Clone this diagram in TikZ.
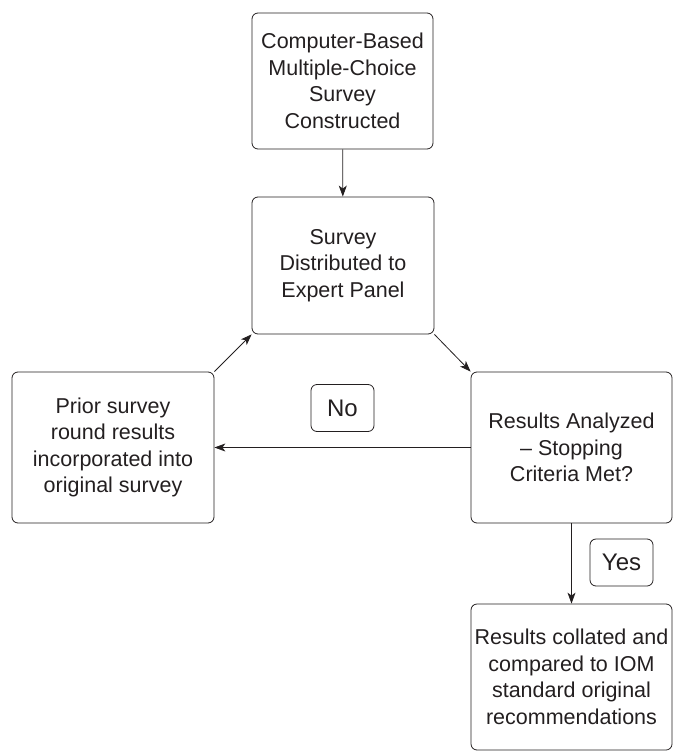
\documentclass[tikz,border=0pt]{standalone}
\usepackage{fontspec}
\setmainfont{Liberation Sans}
\usepackage{tikz}
\usetikzlibrary{arrows.meta,shapes}

\definecolor{ink}{HTML}{231F20}

\begin{document}
\begin{tikzpicture}[x=1pt, y=-1pt, >={Stealth[length=11pt, width=8pt, inset=3pt]},
    line width=0.8pt, draw=ink, text=ink,
    stage/.style={draw=ink, rounded corners=6pt, align=center, inner sep=0pt,
      font=\fontsize{21.5}{26.5}\selectfont},
    answer/.style={draw=ink, rounded corners=6pt, align=center, inner sep=0pt,
      minimum width=63pt, minimum height=47pt, font=\fontsize{24}{28}\selectfont}]
    \useasboundingbox (0,0) rectangle (673,751);
    % boxes
    \node[stage, minimum width=181pt, minimum height=136pt] (built) at (342.5,81)
      {Computer-Based\\Multiple-Choice\\Survey\\Constructed};
    \node[stage, minimum width=182pt, minimum height=137pt] (sent) at (343,265.5)
      {Survey\\Distributed to\\Expert Panel};
    \node[stage, minimum width=202pt, minimum height=151pt] (prior) at (113,447.5)
      {Prior survey\\round results\\incorporated into\\original survey};
    \node[stage, minimum width=201pt, minimum height=151pt] (check) at (571.5,447.5)
      {Results Analyzed\\-- Stopping\\Criteria Met?};
    \node[stage, minimum width=201pt, minimum height=146pt] (final) at (571.5,677)
      {Results collated and\\compared to IOM\\standard original\\recommendations};
    % answers
    \node[answer] (no) at (342.5,408) {No};
    \node[answer] (yes) at (621.5,562.5) {Yes};
    % flow
    \draw[->, ink] (built) -- (sent);
    \draw[->, ink] (sent.south east) -- (check.north west);
    \draw[->, ink] (check) -- (prior);
    \draw[->, ink] (prior.north east) -- (sent.south west);
    \draw[->, ink] (check.south) -- (final.north);
  \end{tikzpicture}
\end{document}
